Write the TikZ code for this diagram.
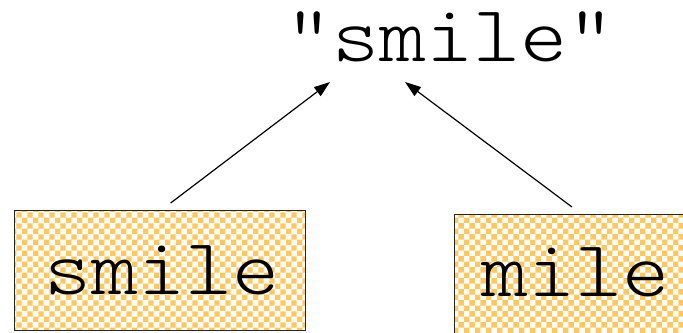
\documentclass[tikz,border=0pt]{standalone}
\usepackage{fontspec}
\newfontfamily\courfont{Latin Modern Mono Light}[FakeStretch=1.12]
\usetikzlibrary{patterns,arrows.meta}
\definecolor{patorange}{RGB}{255,200,95}
\begin{document}
\begin{tikzpicture}[x=1bp,y=-1bp,
  word/.style={font=\fontsize{80bp}{80bp}\selectfont\courfont, inner sep=0pt},
  wordbox/.style={word, draw=black!85, line width=1.3bp, pattern=checkerboard, pattern color=patorange},
  arr/.style={-{Triangle[length=16bp,width=11bp]}, line width=1.2bp, black}]
\useasboundingbox (0,0) rectangle (683,332);
\clip (0,0) rectangle (683,332);
\node[word, anchor=base] (t) at (450,61) {"smile"};
\node[wordbox, anchor=north west, text width=291bp, align=center, text height=84bp, text depth=36bp] (b1) at (14,210) {\hspace*{3bp}smile};
\node[wordbox, anchor=north west, text width=250bp, align=left, inner xsep=27bp, text height=82bp, text depth=38bp] (b2) at (454,214) {mile};
\draw[arr] ([shift={(10.5,-7)}]b1.north) -- ([shift={(-120,21)}]t.base);
\draw[arr] ([shift={(118,-7)}]b2.north west) -- ([shift={(-45,21)}]t.base);
\end{tikzpicture}
\end{document}
